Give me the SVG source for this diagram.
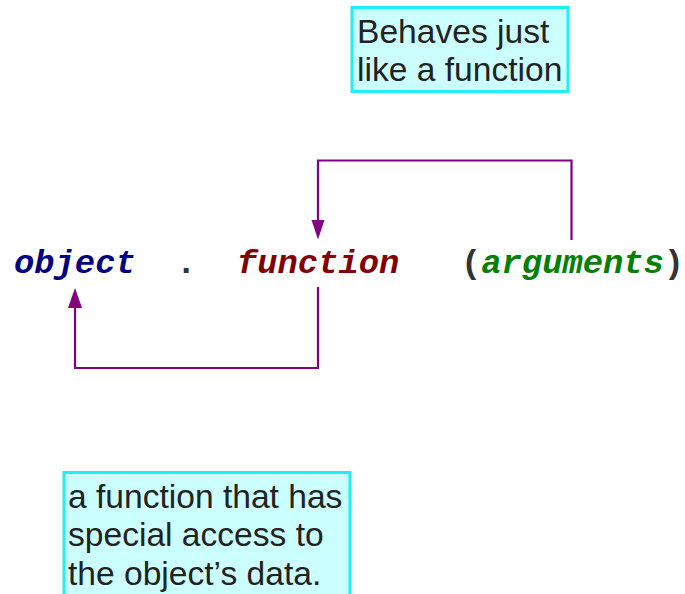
<svg xmlns="http://www.w3.org/2000/svg" width="685" height="594" viewBox="0 0 685 594">
<defs>
<style>
.box{fill:#ccffff;stroke:#1ff0f4;stroke-width:3}
.note{font-family:"Liberation Sans",Arial,sans-serif;font-size:33.6px;fill:#222222}
.code{font-family:"Liberation Mono","Courier New",monospace;font-size:33.8px;font-weight:bold;font-style:italic}
.up{font-style:normal}
.conn{fill:none;stroke:#800080;stroke-width:2.2}
</style>
</defs>
<rect width="685" height="594" fill="#ffffff"/>
<g id="connectors">
<path class="conn" d="M571.5,240 V160.5 H318 V220"/>
<path d="M311.5,220 L324.5,220 L318,239.5 Z" fill="#800080"/>
<path class="conn" d="M318,287 V368 H75 V308"/>
<path d="M68,308 L82,308 L75,288 Z" fill="#800080"/>
</g>
<g id="note-top">
<rect class="box" x="352" y="7.5" width="216" height="84"/>
<text class="note" x="357" y="43">Behaves just</text>
<text class="note" x="357" y="81">like a function</text>
</g>
<g id="code">
<text class="code" x="14" y="273" fill="#000080">object</text>
<text class="code up" x="176" y="273" fill="#333333">.</text>
<text class="code" x="237" y="273" fill="#800000">function</text>
<text class="code" x="461" y="273" fill="#333333"><tspan class="up">(</tspan><tspan fill="#008000">arguments</tspan><tspan class="up">)</tspan></text>
</g>
<g id="note-bottom">
<rect class="box" x="64" y="472.5" width="286" height="125"/>
<text class="note" x="68" y="508">a function that has</text>
<text class="note" x="68" y="546">special access to</text>
<text class="note" x="68" y="585">the object’s data.</text>
</g>
</svg>
